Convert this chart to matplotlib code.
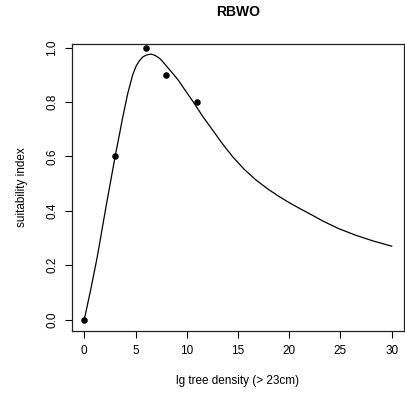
import matplotlib
matplotlib.use("Agg")
import matplotlib.pyplot as plt

# observed suitability values
obs_x = [0, 3, 6, 8, 11]
obs_y = [0.0, 0.6, 1.0, 0.9, 0.8]

# fitted curve
curve_x = [0, 0.6, 1.24, 2.12, 3.0, 3.4, 3.74, 4.23, 4.72, 5.05, 5.37, 5.7,
           6.03, 6.51, 6.9, 7.32, 7.7, 8.13, 8.65, 9.21, 10.09, 10.74, 11.6,
           12.53, 13.5, 14.48, 15.6, 16.77, 18.0, 19.04, 20.0, 21.0, 22.2,
           23.3, 24.8, 26.5, 28.2, 30.0]
curve_y = [0.0, 0.105, 0.225, 0.415, 0.598, 0.675, 0.742, 0.830, 0.900,
           0.932, 0.952, 0.966, 0.973, 0.977, 0.972, 0.962, 0.947, 0.928,
           0.905, 0.879, 0.830, 0.795, 0.745, 0.697, 0.646, 0.599, 0.553,
           0.513, 0.478, 0.452, 0.430, 0.409, 0.385, 0.362, 0.335, 0.310,
           0.289, 0.270]

xticks = [0, 5, 10, 15, 20, 25, 30]
yticks = [0.0, 0.2, 0.4, 0.6, 0.8, 1.0]

plt.rcParams['font.family'] = ['Liberation Sans', 'DejaVu Sans']

fig = plt.figure(figsize=(4.06, 3.93), dpi=100)
ax = fig.add_axes([0.1773, 0.1565, 0.8178, 0.7323])

ax.plot(curve_x, curve_y, color='black', lw=0.9)
ax.plot(obs_x, obs_y, 'o', color='black', markersize=3.7)

ax.set_xlim(-1.2, 31.2)
ax.set_ylim(-0.044, 1.015)
ax.set_xticks(xticks)
ax.set_xticklabels([str(t) for t in xticks])
ax.set_yticks(yticks)
ax.set_yticklabels([f"{t:.1f}" for t in yticks], rotation=90, va='center')
ax.tick_params(direction='out', length=5, width=0.8, labelsize=8.5, pad=5)

for s in ax.spines.values():
    s.set_linewidth(0.9)
    s.set_color('#222222')

ax.set_title("RBWO", fontsize=10, fontweight='bold', pad=20)
ax.set_xlabel("lg tree density (> 23cm)", fontsize=8.5, labelpad=13)
ax.set_ylabel("suitability index", fontsize=8.5, labelpad=13)

fig.savefig("out.png", dpi=100)
